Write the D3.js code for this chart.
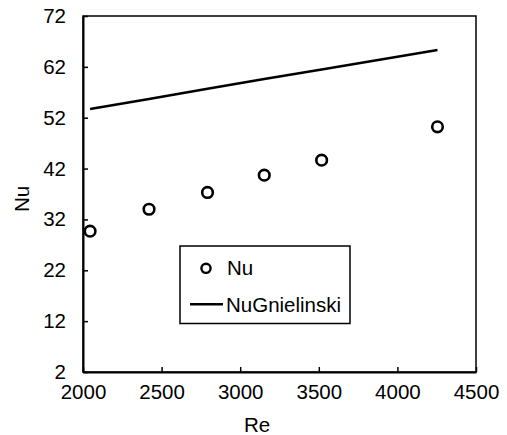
<!DOCTYPE html>
<html><head><meta charset="utf-8">
<script src="https://cdn.jsdelivr.net/npm/d3@7"></script>
<style>
html,body{margin:0;padding:0;background:#fff;}
text{font-family:"Liberation Sans",Arial,sans-serif;}
</style></head>
<body><svg id="c" width="507" height="435"></svg>
<script>
const re = [2045, 2420, 2792, 3153, 3518, 4255];
const nu = [29.7, 34.0, 37.3, 40.7, 43.65, 50.2];
const nuGnielinski = [53.7, 55.7, 57.7, 59.6, 61.5, 65.3];
const xTicks = [2000, 2500, 3000, 3500, 4000, 4500];
const yTicks = [2, 12, 22, 32, 42, 52, 62, 72];

const svg = d3.select("#c");
const L = 83, T = 16, R = 476, B = 372;
const x = d3.scaleLinear().domain([2000, 4500]).range([L, R]);
const y = d3.scaleLinear().domain([2, 72]).range([B, T]);

// frame
svg.append("rect").attr("x", L).attr("y", T).attr("width", R - L).attr("height", B - T)
  .attr("fill", "none").attr("stroke", "#000").attr("stroke-width", 1.5);

const fs = 20.5;
const xAxis = svg.append("g").attr("transform", `translate(0,${B})`)
  .call(d3.axisBottom(x).tickValues(xTicks).tickSizeInner(-5).tickSizeOuter(0).tickPadding(12).tickFormat(d3.format("d")));
const yAxis = svg.append("g").attr("transform", `translate(${L},0)`)
  .call(d3.axisLeft(y).tickValues(yTicks).tickSizeInner(-5).tickSizeOuter(0).tickPadding(17).tickFormat(d3.format("d")));
[xAxis, yAxis].forEach(g => {
  g.select(".domain").attr("stroke", "#000").attr("stroke-width", 2);
  g.selectAll(".tick line").attr("stroke", "#000").attr("stroke-width", 1.5);
  g.selectAll(".tick text").attr("font-size", fs).attr("fill", "#000")
    .attr("font-family", "'Liberation Sans', Arial, sans-serif");
});

// axis titles
svg.append("text").attr("x", 257).attr("y", 432).attr("text-anchor", "middle")
  .attr("font-size", fs).text("Re");
svg.append("text").attr("transform", "translate(29,199) rotate(-90)").attr("text-anchor", "middle")
  .attr("font-size", fs).text("Nu");

// line
const pts = re.map((r, i) => [r, nuGnielinski[i]]);
svg.append("path").datum(pts)
  .attr("d", d3.line().x(d => x(d[0])).y(d => y(d[1])))
  .attr("fill", "none").attr("stroke", "#000").attr("stroke-width", 2.5);

// points
svg.selectAll("circle.nu").data(re.map((r, i) => [r, nu[i]])).join("circle")
  .attr("class", "nu").attr("cx", d => x(d[0])).attr("cy", d => y(d[1])).attr("r", 5.3)
  .attr("fill", "none").attr("stroke", "#000").attr("stroke-width", 2.6);

// legend
svg.append("rect").attr("x", 180).attr("y", 246).attr("width", 170).attr("height", 77.5)
  .attr("fill", "#fff").attr("stroke", "#000").attr("stroke-width", 1.5);
svg.append("circle").attr("cx", 206).attr("cy", 268.3).attr("r", 4.6)
  .attr("fill", "none").attr("stroke", "#000").attr("stroke-width", 2.4);
svg.append("text").attr("x", 227).attr("y", 275).attr("font-size", fs).text("Nu");
svg.append("line").attr("x1", 190).attr("x2", 223).attr("y1", 304.3).attr("y2", 304.3)
  .attr("stroke", "#000").attr("stroke-width", 2.5);
svg.append("text").attr("x", 226).attr("y", 311.5).attr("font-size", fs).text("NuGnielinski");
</script></body></html>
